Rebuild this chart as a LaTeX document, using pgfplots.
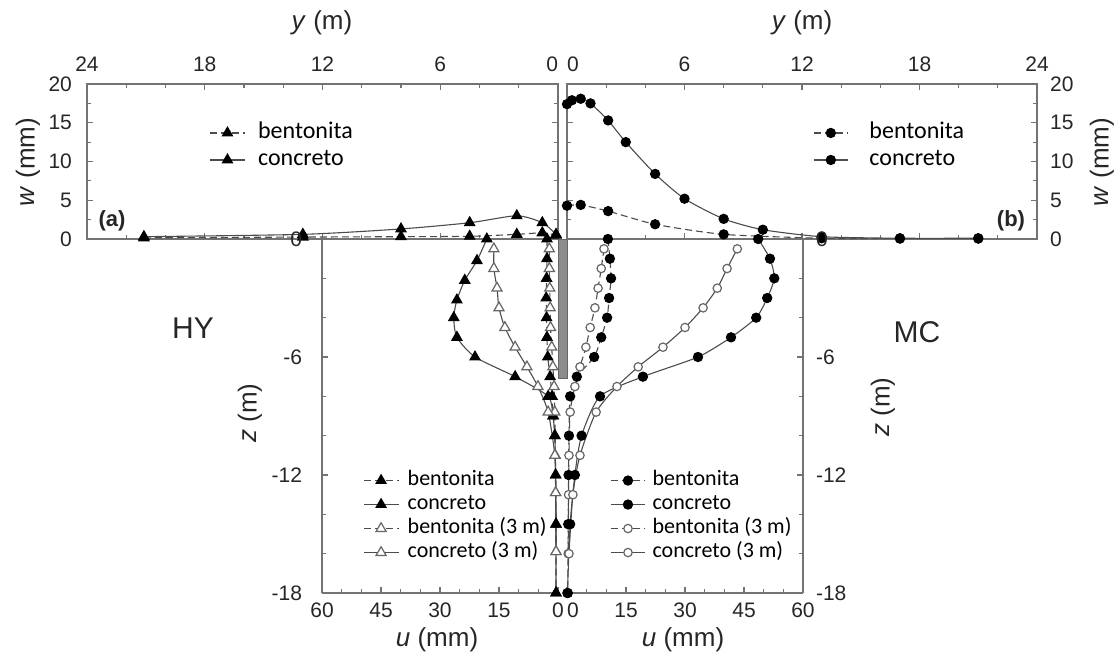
\documentclass[border=0pt]{standalone}
\usepackage{fontspec}
\setmainfont{Liberation Sans}
\newfontfamily\calibri{Carlito}
\usepackage{pgfplots}
\pgfplotsset{compat=1.18}

\definecolor{frame}{gray}{0.45}
\definecolor{curve}{gray}{0.3}
\definecolor{wall}{gray}{0.55}

\pgfplotsset{
  panel/.style={
    scale only axis, clip=false,
    axis line style={frame, line width=0.8pt},
    every tick/.style={frame, line width=0.6pt},
    major tick length=3pt, minor tick length=2pt,
    tick label style={font=\fontsize{10.5}{12}\selectfont, text=black!85},
    /pgf/number format/assume math mode=true,
    legend cell align=left,
    legend style={draw=none, fill=none, inner sep=0pt},
  },
  dashedline/.style={curve, line width=0.55pt, dash pattern=on 3.5pt off 2pt, smooth, tension=0.4},
  solidline/.style={curve, line width=0.55pt, smooth, tension=0.4},
  ftri/.style={mark=triangle*, mark size=2.9pt, mark options={solid, fill=black, draw=black}},
  otri/.style={mark=triangle*, mark size=2.9pt, mark options={solid, fill=white, draw=black!60, line width=0.6pt}},
  fcirc/.style={mark=*, mark size=2.3pt, mark options={solid, fill=black, draw=black}},
  ocirc/.style={mark=*, mark size=2.1pt, mark options={solid, fill=white, draw=black!60, line width=0.6pt}},
}

\begin{document}
\begin{tikzpicture}
\path[use as bounding box] (0,0) rectangle (557pt,-330pt);

% (a) HY, surface settlement
\begin{axis}[panel, at={(161.25pt,-80.75pt)}, anchor=center,
  width=235.5pt, height=77.5pt,
  x dir=reverse, xmin=0, xmax=24, ymin=0, ymax=20,
  xtick={0,6,...,24}, minor x tick num=2,
  xticklabels={\makebox[0pt][r]{0},6,12,18,24},
  ytick={0,5,...,20}, minor y tick num=1,
  xticklabel pos=upper, yticklabel pos=left,
  xticklabel shift=2.5pt, yticklabel shift=4pt,
  legend style={at={(axis description cs:0.26,0.597)}, anchor=west,
    column sep=6.5pt, row sep=1.5pt,
    font=\calibri\fontsize{12}{14}\selectfont,
    nodes={inner sep=0pt, text height=9pt, text depth=3pt}}]
\addplot[dashedline, ftri] coordinates {(21.1,0.15) (13,0.25) (8,0.3) (4.5,0.35) (2.1,0.6) (0.8,0.8) (0.1,0.5)};
\addplot[solidline, ftri] coordinates {(21.1,0.3) (13,0.6) (8,1.3) (4.5,2.1) (2.1,3.0) (0.8,2.1) (0.1,0.6)};
\legend{bentonita, concreto}
\end{axis}

% (b) MC, surface settlement
\begin{axis}[panel, at={(401pt,-80.75pt)}, anchor=center,
  width=235pt, height=77.5pt,
  xmin=0, xmax=24, ymin=0, ymax=20,
  xtick={0,6,...,24}, minor x tick num=2,
  xticklabels={\makebox[0pt][l]{0},6,12,18,24},
  ytick={0,5,...,20}, minor y tick num=1,
  xticklabel pos=upper, yticklabel pos=right,
  xticklabel shift=2.5pt, yticklabel shift=3pt,
  legend style={at={(axis description cs:0.523,0.597)}, anchor=west,
    column sep=10.5pt, row sep=1.5pt,
    font=\calibri\fontsize{12}{14}\selectfont,
    nodes={inner sep=0pt, text height=9pt, text depth=3pt}}]
\addplot[dashedline, fcirc] coordinates {(0,4.3) (0.7,4.4) (2.1,3.6) (4.5,1.9) (8.0,0.6) (13,0.1) (17,0.05) (21,0.05)};
\addplot[solidline, fcirc] coordinates {(0,17.4) (0.25,17.9) (0.7,18.1) (1.2,17.5) (2.1,15.3) (3.0,12.5) (4.5,8.4) (6.0,5.2) (8.0,2.6) (10.0,1.2) (13,0.3) (17,0.1) (21,0.1)};
\legend{bentonita, concreto}
\end{axis}

% HY, lateral displacement
\begin{axis}[panel, at={(220pt,-208pt)}, anchor=center,
  width=118pt, height=177pt,
  x dir=reverse, xmin=0, xmax=60, ymin=-18, ymax=0,
  axis x line*=bottom, axis y line*=left, axis line style={-},
  xtick={0,15,...,60}, minor x tick num=2,
  ytick={-18,-12,-6,0}, minor y tick num=2,
  xticklabel shift=1.5pt, yticklabel shift=6.5pt,
  legend style={at={(axis description cs:0.174,0.216)}, anchor=west,
    column sep=4.5pt, row sep=1pt,
    font=\calibri\fontsize{11}{12}\selectfont,
    nodes={inner sep=0pt, text height=8pt, text depth=3pt}}]
\addplot[dashedline, ftri] coordinates {(2.8,0) (2.8,-1) (2.9,-2) (3.0,-3) (2.9,-4) (2.8,-5) (2.6,-6) (2.0,-7) (1.5,-8) (1.2,-9) (0.8,-10) (0.6,-12) (0.5,-14.5) (0.5,-18)};
\addplot[solidline, ftri] coordinates {(18.1,0) (20.6,-1.1) (23.7,-2.1) (25.7,-3.1) (26.5,-4) (25.7,-5) (21.1,-6) (10.9,-7) (2.5,-8) (1.3,-9) (0.8,-10) (0.6,-12) (0.5,-14.5) (0.5,-18)};
\addplot[dashedline, otri] coordinates {(2.2,-0.5) (2.2,-1.5) (2.1,-2.5) (2.0,-3.5) (1.9,-4.5) (1.6,-5.5) (1.3,-6.5) (1.0,-7.5) (0.8,-8.8) (0.7,-11) (0.6,-12.9) (0.5,-15.9)};
\addplot[solidline, otri] coordinates {(16.3,-0.5) (16.3,-1.5) (15.5,-2.5) (15.0,-3.5) (13.5,-4.5) (10.9,-5.5) (7.9,-6.5) (5.1,-7.5) (2.5,-8.8) (0.8,-11) (0.6,-12.9) (0.5,-15.9)};
\legend{bentonita, concreto, bentonita (3 m), concreto (3 m)}
\end{axis}

% MC, lateral displacement
\begin{axis}[panel, at={(342.5pt,-208pt)}, anchor=center,
  width=118pt, height=177pt,
  xmin=0, xmax=60, ymin=-18, ymax=0,
  axis x line*=bottom, axis y line*=right, axis line style={-},
  xtick={0,15,...,60}, minor x tick num=2,
  xticklabels={\makebox[0pt][l]{0},15,30,45,60},
  ytick={-18,-12,-6,0}, minor y tick num=2,
  xticklabel shift=1.5pt, yticklabel shift=3pt,
  legend style={at={(axis description cs:0.182,0.216)}, anchor=west,
    column sep=3.5pt, row sep=1pt,
    font=\calibri\fontsize{11}{12}\selectfont,
    nodes={inner sep=0pt, text height=8pt, text depth=3pt}}]
\addplot[fill=wall, draw=black!60, line width=0.4pt, forget plot] coordinates {(-2.3,0) (0,0) (0,-7.1) (-2.3,-7.1)} -- cycle;
\addplot[dashedline, fcirc] coordinates {(10.4,0) (10.9,-1) (11.2,-2) (10.7,-3) (10.2,-4) (8.7,-5) (6.9,-6) (2.5,-7) (0.8,-8) (0.5,-10) (0.4,-12) (0.3,-14.5) (0.2,-18)};
\addplot[solidline, fcirc] coordinates {(48.6,0) (51.6,-1) (52.7,-2) (50.9,-3) (48.1,-4) (41.7,-5) (33.3,-6) (19.3,-7) (8.4,-8) (3.7,-10) (2.0,-12) (0.8,-14.5) (0.1,-18)};
\addplot[dashedline, ocirc] coordinates {(9.4,-0.5) (8.7,-1.5) (7.9,-2.5) (7.1,-3.5) (5.9,-4.5) (4.8,-5.5) (3.3,-6.5) (2.0,-7.5) (0.8,-8.8) (0.5,-11) (0.4,-13) (0.3,-16)};
\addplot[solidline, ocirc] coordinates {(43.3,-0.5) (40.7,-1.5) (38.2,-2.5) (34.6,-3.5) (30.0,-4.5) (24.4,-5.5) (18.1,-6.5) (12.7,-7.5) (7.4,-8.8) (3.3,-11) (1.5,-13) (0.5,-16)};
\legend{bentonita, concreto, bentonita (3 m), concreto (3 m)}
\end{axis}

% descriptions
\begin{scope}[font=\fontsize{13}{15}\selectfont, text=black!85]
\node at (161pt,-11.5pt) {\textit{y} (m)};
\node at (401pt,-11.5pt) {\textit{y} (m)};
\node[rotate=90] at (14pt,-81pt) {\textit{w} (mm)};
\node[rotate=90] at (551pt,-81pt) {\textit{w} (mm)};
\node[rotate=90] at (125pt,-206.5pt) {\textit{z} (m)};
\node[rotate=90] at (441.5pt,-203.5pt) {\textit{z} (m)};
\node at (218.5pt,-320pt) {\textit{u} (mm)};
\node at (341.5pt,-320pt) {\textit{u} (mm)};
\end{scope}
\node[font=\bfseries\fontsize{11}{13}\selectfont, text=black!85] at (56pt,-110.5pt) {(a)};
\node[font=\bfseries\fontsize{11}{13}\selectfont, text=black!85] at (505.5pt,-110.5pt) {(b)};
\node[font=\fontsize{15}{17}\selectfont, text=black!85] at (96.5pt,-164pt) {HY};
\node[font=\fontsize{15}{17}\selectfont, text=black!85] at (458.5pt,-166pt) {MC};
\end{tikzpicture}
\end{document}
